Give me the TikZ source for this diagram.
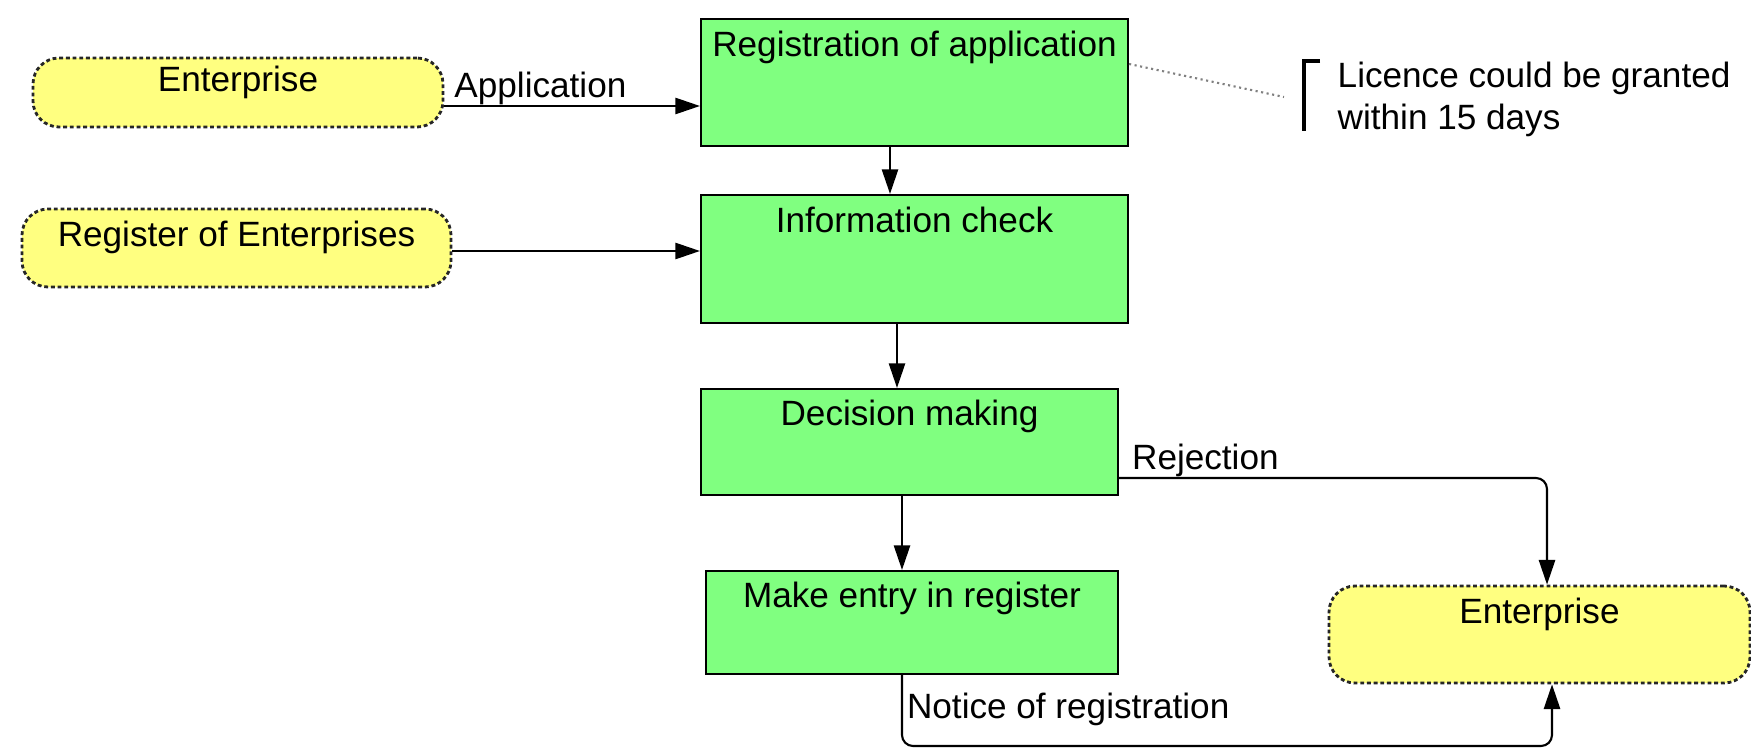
\documentclass[tikz,border=0pt]{standalone}
\usepackage{fontspec}
\setmainfont{Liberation Sans}
\usetikzlibrary{arrows.meta,calc}
\definecolor{boxgreen}{RGB}{128,255,128}
\definecolor{entyellow}{RGB}{255,255,128}
\begin{document}
\begin{tikzpicture}[x=0.1mm,y=-0.1mm,
  font=\fontsize{10}{12}\selectfont,
  proc/.style={draw=black, line width=0.6pt, fill=boxgreen, inner sep=0pt},
  ext/.style={draw=black!85, line width=0.8pt, dash pattern=on 1.1pt off 0.8pt, fill=entyellow, rounded corners=2.6mm, inner sep=0pt},
  tt/.style={anchor=base, yshift=#1},
  tt/.default=-3.9mm,
  arr/.style={draw, line width=0.6pt, -{Triangle[length=7pt,width=4.6pt]}},
  lbl/.style={anchor=base west, inner sep=0pt},
  notelink/.style={draw=gray, line width=0.6pt, densely dotted}]
\useasboundingbox (0,0) rectangle (1751,750);

% process boxes
\node[proc, minimum width=42.7mm, minimum height=12.7mm, label={[tt]north:Registration of application}] (reg) at (914.5,82.5) {};
\node[proc, minimum width=42.7mm, minimum height=12.8mm, label={[tt]north:Information check}] (info) at (914.5,259) {};
\node[proc, minimum width=41.7mm, minimum height=10.6mm, label={[tt=-3.8mm]north:Decision making}] (dec) at (909.5,442) {};
\node[proc, minimum width=41.2mm, minimum height=10.3mm, label={[tt=-3.8mm]north:Make entry in register}] (make) at (912,622.5) {};

% external entities
\node[ext, minimum width=41mm, minimum height=6.9mm, label={[tt=-3.5mm]north:Enterprise}] (ent1) at (238,92.5) {};
\node[ext, minimum width=42.9mm, minimum height=7.8mm, label={[tt]north:Register of Enterprises}] (roe) at (236.5,248) {};
\node[ext, minimum width=42.1mm, minimum height=9.7mm, label={[tt]north:Enterprise}] (ent2) at (1539.5,634.5) {};

% note
\node[anchor=north west, align=left, inner sep=0pt] (note) at (1337,61) {Licence could be granted\\within 15 days};
\draw[line width=0.9pt] ([xshift=-1.7mm]note.north west) -- ([xshift=-3.3mm]note.north west) -- ++(0,70);
\coordinate (nl) at (1284,97);
\draw[notelink] ([yshift=1.85mm]reg.east) -- (nl);

% connectors
\draw[arr] ([yshift=-1.35mm]ent1.east) -- ([yshift=-1.35mm]ent1.east -| reg.west)
  node[lbl, pos=0, xshift=0.9mm, yshift=0.8mm] {Application};
\draw[arr] ([yshift=-0.3mm]roe.east) -- ([yshift=-0.3mm]roe.east -| info.west);
\draw[arr] ([xshift=-2.45mm]reg.south) -- ([xshift=-2.45mm]reg.south |- info.north);
\draw[arr] ([xshift=-1.75mm]info.south) -- ([xshift=-1.75mm]info.south |- dec.north);
\draw[arr] ([xshift=-0.75mm]dec.south) -- ([xshift=-0.75mm]dec.south |- make.north);
\draw[arr, rounded corners=1.1mm] ([yshift=-3.6mm]dec.east) -| ([xshift=0.75mm]ent2.north)
  node[lbl, pos=0, xshift=1.2mm, yshift=0.9mm] {Rejection};
\coordinate (nbot) at (1552,746);
\draw[arr, rounded corners=1.1mm] ([xshift=-1mm]make.south)
  node[lbl, xshift=0.4mm, yshift=-4.3mm] {Notice of registration}
  |- (nbot) -- (nbot |- ent2.south);
\end{tikzpicture}
\end{document}
